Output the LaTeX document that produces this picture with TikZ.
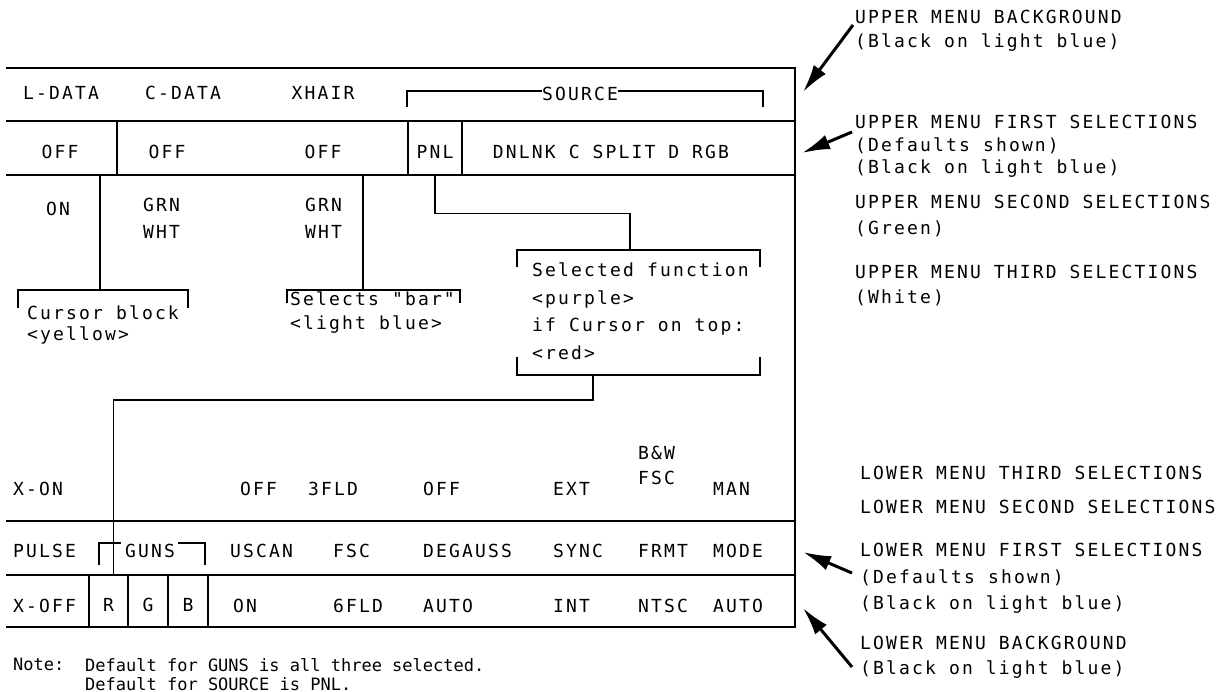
\documentclass[tikz,border=0pt]{standalone}
\usepackage{fontspec}
\usepackage{tikz}
\usetikzlibrary{arrows.meta}
\newfontfamily\plotfont{DejaVu Sans Mono}[LetterSpace=12]
\newfontfamily\notefont{DejaVu Sans Mono}

\begin{document}
\begin{tikzpicture}[x=1pt,y=-1pt,
  txt/.style={inner sep=0pt,font=\plotfont\fontsize{18}{24}\selectfont},
  ltxt/.style={txt,anchor=base west},
  ctxt/.style={txt,anchor=base},
  blk/.style={inner sep=0pt,anchor=north west,align=left,font=\plotfont\fontsize{18}{#1}\selectfont},
  blk/.default=24,
  cell/.style={txt,draw,line width=1.4pt,minimum width=#1,text height=21pt,text depth=0pt},
  wire/.style={line width=1.4pt},
  menuline/.style={line width=1.8pt},
  bigarrow/.style={line width=3pt,-{Latex[length=28pt,width=15pt]}}]
  \useasboundingbox (0,0) rectangle (1225,692);

  % menu frame
  \draw[menuline] (6,68) -- (795,68) -- (795,627) -- (6,627);
  \foreach \y in {121,175,521,575}
    \draw[menuline] (6,\y) -- (795,\y);
  \draw[wire] (117,121) -- (117,175);

  % upper menu
  \node[ctxt] (ldata) at (61,100) {L-DATA};
  \node[ctxt] (cdata) at (183,100) {C-DATA};
  \node[ctxt] (xhair) at (323,100) {XHAIR};
  \node[ctxt] (source) at (580,101) {SOURCE};
  \draw[wire] (542,91) -| (407,107);
  \draw[wire] (618,91) -| (763,107);
  \node[ctxt] (off1) at (60,159) {OFF};
  \node[ctxt] (off2) at (167,159) {OFF};
  \node[ctxt] (off3) at (323,159) {OFF};
  \node[cell=54pt,minimum height=54pt] (pnl) at (435,148) {PNL};
  \node[ctxt] (dnlnk) at (611,159) {DNLNK C SPLIT D RGB};
  \node[ctxt] (on) at (58,216) {ON};
  \node[blk=27] (grn1) at (143,198) {GRN\\WHT};
  \node[blk=27] (grn2) at (305,198) {GRN\\WHT};

  % second selections
  \coordinate (curtop) at (100,290);
  \coordinate (bartop) at (363,290);
  \draw[wire] (curtop) -- ++(0,-115);
  \draw[wire] (bartop) -- ++(0,-115);
  \draw[wire] (18,308) |- (188,290) -- (188,308);
  \node[blk=21] (cursor) at (27,306) {Cursor block\\<yellow>};
  \draw[wire] (287,303) |- (460,290) -- (460,303);
  \node[blk=24] (bar) at (290,292) {Selects "bar"\\<light blue>};

  % selected function
  \coordinate (seltop) at (630,250);
  \coordinate (selbot) at (593,375);
  \draw[wire] (517,267) |- (760,250) -- (760,267);
  \draw[wire] (517,357) |- (760,375) -- (760,357);
  \node[blk=27.5] (selfn) at (532,263) {Selected function\\<purple>\\if Cursor on top:\\<red>};
  \draw[wire] (pnl.south) -- ++(0,38) -| (seltop);

  % lower menu
  \node[ltxt] (xon) at (13,495) {X-ON};
  \node[ltxt] (off4) at (240,495) {OFF};
  \node[ltxt] (fld3) at (308,495) {3FLD};
  \node[ltxt] (off5) at (423,495) {OFF};
  \node[ltxt] (ext) at (553,495) {EXT};
  \node[blk=25] (bw) at (638,446) {B\&W\\FSC};
  \node[ltxt] (man) at (713,495) {MAN};

  \node[ltxt] (pulse) at (13,557) {PULSE};
  \node[ctxt] (guns) at (150,557) {GUNS};
  \draw[wire] (99,565) |- (121,543);
  \draw[wire] (178,543) -| (205,565);
  \node[ltxt] (uscan) at (230,557) {USCAN};
  \node[ltxt] (fsc) at (333,557) {FSC};
  \node[ltxt] (degauss) at (423,557) {DEGAUSS};
  \node[ltxt] (sync) at (553,557) {SYNC};
  \node[ltxt] (frmt) at (638,557) {FRMT};
  \node[ltxt] (mode) at (713,557) {MODE};

  \node[ltxt] (xoff) at (13,612) {X-OFF};
  \node[cell=39pt,minimum height=52pt] (rgun) at (108.5,601) {R};
  \node[cell=40pt,minimum height=52pt] (ggun) at (148,601) {G};
  \node[cell=40pt,minimum height=52pt] (bgun) at (188,601) {B};
  \node[ltxt] (on2) at (233,612) {ON};
  \node[ltxt] (fld6) at (333,612) {6FLD};
  \node[ltxt] (auto1) at (423,612) {AUTO};
  \node[ltxt] (int) at (553,612) {INT};
  \node[ltxt] (ntsc) at (638,612) {NTSC};
  \node[ltxt] (auto2) at (713,612) {AUTO};
  \draw[wire] (selbot) -- ++(0,25) -| ([xshift=5pt]rgun.north);

  % note
  \node[ltxt,font=\notefont\fontsize{17}{19}\selectfont] (note) at (13,670) {Note:};
  \node[blk,font=\notefont\fontsize{17}{19}\selectfont] (notetxt) at (85,658)
    {Default for GUNS is all three selected.\\Default for SOURCE is PNL.};

  % right-hand labels
  \node[blk=24] (ubg) at (855,10) {UPPER MENU BACKGROUND\\(Black on light blue)};
  \node[blk=22.5] (ufirst) at (855,115) {UPPER MENU FIRST SELECTIONS\\(Defaults shown)\\(Black on light blue)};
  \node[blk=26] (usecond) at (855,195) {UPPER MENU SECOND SELECTIONS\\(Green)};
  \node[blk=25] (uthird) at (855,265) {UPPER MENU THIRD SELECTIONS\\(White)};
  \node[blk] (lthird) at (860,466) {LOWER MENU THIRD SELECTIONS};
  \node[blk] (lsecond) at (860,500) {LOWER MENU SECOND SELECTIONS};
  \node[blk=26.5] (lfirst) at (860,543) {LOWER MENU FIRST SELECTIONS\\(Defaults shown)\\(Black on light blue)};
  \node[blk=25] (lbg) at (860,636) {LOWER MENU BACKGROUND\\(Black on light blue)};

  % arrows
  \coordinate (ubgtip) at (803,92);
  \coordinate (ufirsttip) at (802,153);
  \coordinate (lfirsttip) at (803,552);
  \coordinate (lbgtip) at (803,608);
  \draw[bigarrow] ([xshift=-2pt,yshift=-15pt]ubg.north west) -- (ubgtip);
  \draw[bigarrow] ([xshift=-3pt,yshift=-17pt]ufirst.north west) -- (ufirsttip);
  \draw[bigarrow] ([xshift=-8pt,yshift=-30pt]lfirst.north west) -- (lfirsttip);
  \draw[bigarrow] ([xshift=-8pt,yshift=-31pt]lbg.north west) -- (lbgtip);
\end{tikzpicture}
\end{document}
